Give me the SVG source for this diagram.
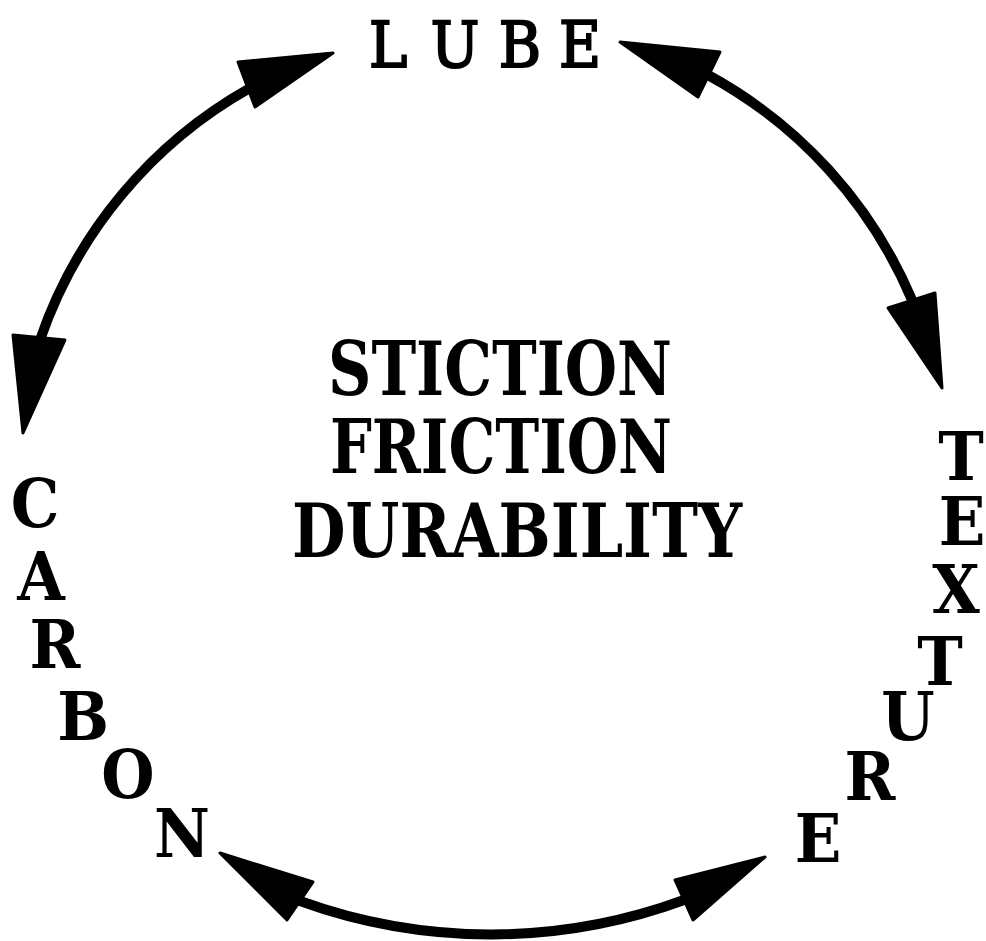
<svg xmlns="http://www.w3.org/2000/svg" width="986" height="941" viewBox="0 0 986 941">
<style>
.t{font-family:"DejaVu Serif Condensed","DejaVu Serif",serif;font-weight:bold;fill:#000;text-anchor:middle}
.big{font-size:68px}
.lube{font-size:64px;font-weight:normal;stroke:#000;stroke-width:2}
.mid{font-family:"DejaVu Serif Condensed","DejaVu Serif",serif;font-weight:bold;fill:#000;font-size:74px}
.arc{fill:none;stroke:#000;stroke-width:10;stroke-linecap:round}
.head{fill:#000;stroke:#000;stroke-width:3;stroke-linejoin:round}
</style>
<rect width="986" height="941" fill="#fff"/>
<g id="connectors">
<path class="arc" d="M250,88 A460,460 0 0 0 40,340"/>
<polygon class="head" points="333,53 238,62 255,107"/>
<polygon class="head" points="23,433 13,335 65,340"/>
<path class="arc" d="M708,75 A460,460 0 0 1 912,300"/>
<polygon class="head" points="620,42 720,52 698,97"/>
<polygon class="head" points="942,388 888,308 935,293"/>
<path class="arc" d="M300,901 A560,560 0 0 0 684,900"/>
<polygon class="head" points="220,853 313,882 287,920"/>
<polygon class="head" points="765,857 675,880 693,920"/>
</g>
<g id="lube">
<text class="t lube" x="388 455 520 580" y="67">LUBE</text>
</g>
<g id="carbon">
<text class="t big" x="35" y="527">C</text>
<text class="t big" x="41" y="600">A</text>
<text class="t big" x="55" y="668">R</text>
<text class="t big" x="83" y="740">B</text>
<text class="t big" x="128" y="798">O</text>
<text class="t big" x="182" y="857">N</text>
</g>
<g id="texture">
<text class="t big" x="961" y="480">T</text>
<text class="t big" x="962" y="545">E</text>
<text class="t big" x="956" y="613">X</text>
<text class="t big" x="940" y="685">T</text>
<text class="t big" x="908" y="740">U</text>
<text class="t big" x="870" y="800">R</text>
<text class="t big" x="818" y="862">E</text>
</g>
<g id="center">
<text class="mid" x="328" y="395" textLength="344" lengthAdjust="spacingAndGlyphs">STICTION</text>
<text class="mid" x="330" y="473" textLength="342" lengthAdjust="spacingAndGlyphs">FRICTION</text>
<text class="mid" x="292" y="557" textLength="450" lengthAdjust="spacingAndGlyphs">DURABILITY</text>
</g>
</svg>
